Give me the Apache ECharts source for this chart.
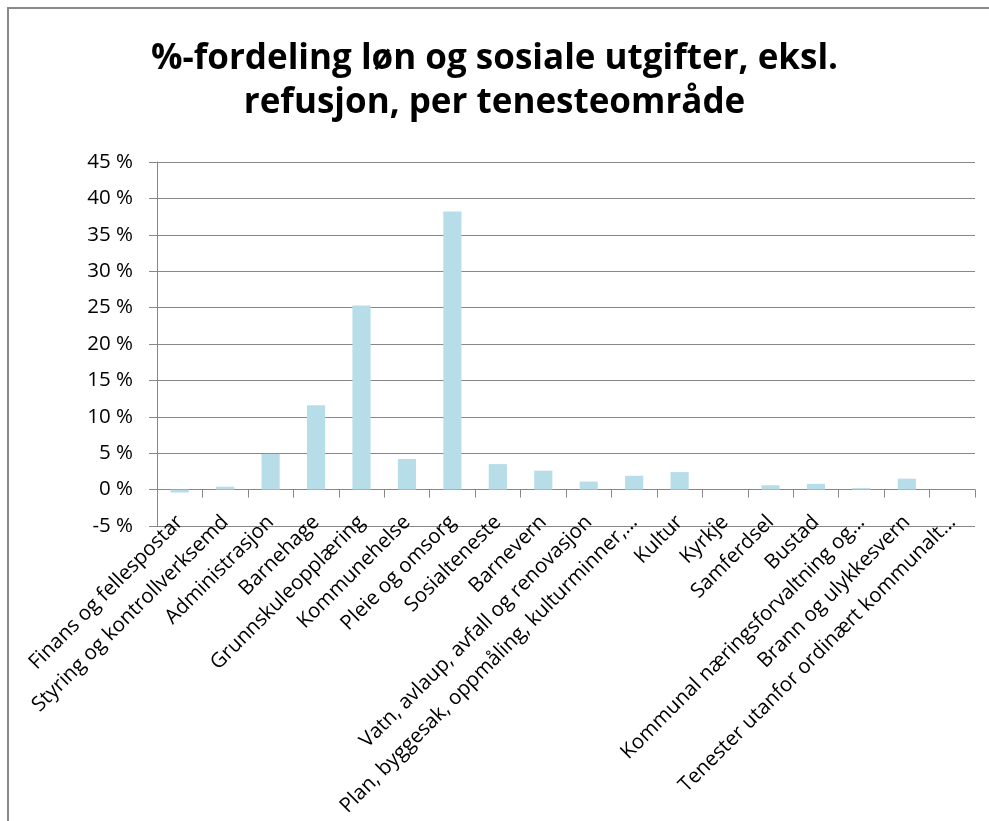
<!DOCTYPE html>
<html>
<head>
<meta charset="utf-8">
<title>%-fordeling løn og sosiale utgifter</title>
<script src="https://cdn.jsdelivr.net/npm/echarts@6/dist/echarts.min.js"></script>
<style>
	html, body { margin: 0; padding: 0; background: #fff; }
	#chart { width: 989px; height: 821px; }
</style>
</head>
<body>
<div id="chart"></div>
<script>
/*
 * Tenesteområde (kategoriar)
 */
var categories = [
	'Finans og fellespostar',
	'Styring og kontrollverksemd',
	'Administrasjon',
	'Barnehage',
	'Grunnskuleopplæring',
	'Kommunehelse',
	'Pleie og omsorg',
	'Sosialteneste',
	'Barnevern',
	'Vatn, avlaup, avfall og renovasjon',
	'Plan, byggesak, oppmåling, kulturminner,…',
	'Kultur',
	'Kyrkje',
	'Samferdsel',
	'Bustad',
	'Kommunal næringsforvaltning og…',
	'Brann og ulykkesvern',
	'Tenester utanfor ordinært kommunalt…'
];

/*
 * Prosentdel løn og sosiale utgifter
 */
var shareValues = [-0.4, 0.4, 4.9, 11.6, 25.3, 4.2, 38.2, 3.5, 2.6, 1.1, 1.9, 2.4, 0, 0.6, 0.8, 0.2, 1.5, 0];

/*
 * Y-aksen
 */
var yMin = -5;
var yMax = 45;
var yStep = 5;

var titleText = '%-fordeling løn og sosiale utgifter, eksl.\nrefusjon, per tenesteområde';

function initShareChart() {
	var chart = echarts.init(document.getElementById('chart'));
	var axisGray = '#878787';
	var font = 'Open Sans';
	var option = {
		animation: false,
		title: {
			text: titleText,
			left: 'center',
			top: 32,
			textStyle: {
				fontFamily: font,
				fontSize: 35,
				fontWeight: 'bold',
				color: '#000',
				lineHeight: 44
			}
		},
		graphic: [{
			// ramme rundt diagrammet
			type: 'rect',
			shape: { x: 8, y: 8, width: 1100, height: 1000 },
			style: { fill: 'none', stroke: '#888', lineWidth: 2 },
			silent: true
		}],
		grid: {
			left: 157,
			right: 14,
			top: 162,
			bottom: 295
		},
		xAxis: {
			type: 'category',
			data: categories,
			axisLine: { onZero: true, lineStyle: { color: axisGray } },
			axisTick: { show: true, length: 8, lineStyle: { color: axisGray } },
			axisLabel: {
				interval: 0,
				rotate: 45,
				margin: -7,
				fontFamily: font,
				fontSize: 20.5,
				color: '#000'
			},
			splitLine: { show: false }
		},
		yAxis: {
			type: 'value',
			min: yMin,
			max: yMax,
			interval: yStep,
			axisLine: { show: true, lineStyle: { color: axisGray } },
			axisTick: { show: true, length: 8, lineStyle: { color: axisGray } },
			axisLabel: {
				formatter: '{value} %',
				margin: 24,
				fontFamily: font,
				fontSize: 20.5,
				color: '#000'
			},
			splitLine: { show: true, lineStyle: { color: axisGray } }
		},
		series: [{
			type: 'bar',
			data: shareValues,
			barWidth: '40%',
			itemStyle: { color: '#B7DDE8' }
		}]
	};
	chart.setOption(option);
}

initShareChart();
</script>
</body>
</html>
